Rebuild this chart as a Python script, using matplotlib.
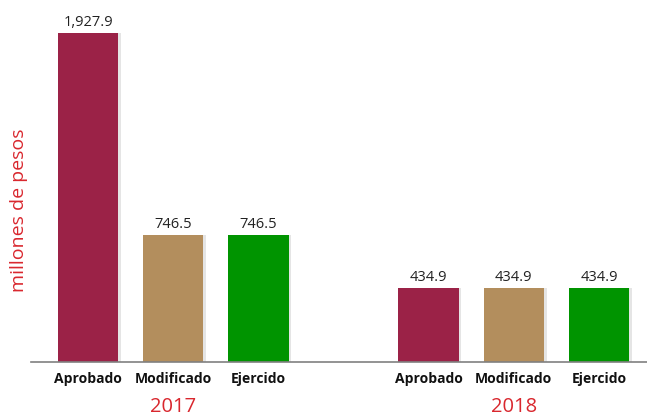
import matplotlib
matplotlib.use("Agg")
import matplotlib.pyplot as plt

years = ["2017", "2018"]
categories = ["Aprobado", "Modificado", "Ejercido"]
values_2017 = [1927.9, 746.5, 746.5]
values_2018 = [434.9, 434.9, 434.9]
value_labels_2017 = ["1,927.9", "746.5", "746.5"]
value_labels_2018 = ["434.9", "434.9", "434.9"]
colors = ["#9B2247", "#B38E5D", "#009400"]

W, H = 647, 416
fig = plt.figure(figsize=(W / 100, H / 100), dpi=100)
ax_left, ax_right, ax_bottom, ax_top = 31, 647, 362, 0
ax = fig.add_axes([ax_left / W, (H - ax_bottom) / H, (ax_right - ax_left) / W, (ax_bottom - ax_top) / H])

positions = [[0, 1, 2], [4, 5, 6]]
series = [values_2017, values_2018]
labels = [value_labels_2017, value_labels_2018]
bw = 0.71
for pos, vals, labs in zip(positions, series, labels):
    # subtle shadow
    ax.bar([p + 0.03 for p in pos], vals, width=bw, color="#cccccc", alpha=0.5, zorder=1)
    ax.bar(pos, vals, width=bw, color=colors, zorder=2)
    for p, v, l in zip(pos, vals, labs):
        ax.annotate(l, (p, v), xytext=(0, 2), textcoords="offset points",
                    ha="center", va="bottom", fontsize=10.5, color="#222222",
                    family="Open Sans")

ax.set_xlim(-0.67, 6.565)
ax.set_ylim(0, 2121)
for s in ["top", "right", "left"]:
    ax.spines[s].set_visible(False)
ax.spines["bottom"].set_color("#808080")
ax.spines["bottom"].set_linewidth(1.2)
ax.set_yticks([])

all_pos = positions[0] + positions[1]
ax.set_xticks(all_pos)
ax.set_xticklabels(categories * 2, fontsize=10, fontweight="bold", family="Open Sans", color="#111111")
ax.tick_params(axis="x", length=0, pad=7)

for pos, yr in zip(positions, years):
    ax.annotate(yr, (pos[1], 0), xycoords=("data", "axes fraction"), xytext=(0, -25),
                textcoords="offset points", ha="center", va="top", fontsize=14.5,
                color="#D9272E", family="Open Sans")

fig.text(19 / W, 1 - 210 / H, "millones de pesos", rotation=90, ha="center", va="center",
         fontsize=14, color="#D9272E", family="Open Sans")

fig.savefig("out.png", dpi=100)
